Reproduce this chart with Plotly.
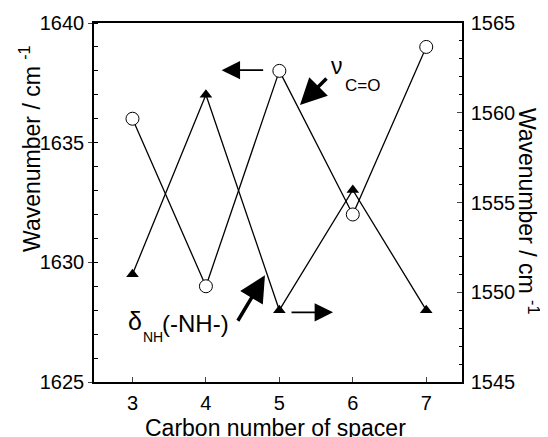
import plotly.graph_objects as go

carbon = [3, 4, 5, 6, 7]
nu_co = [1636, 1629, 1638, 1632, 1639]
delta_nh = [1551, 1561, 1549, 1555.7, 1549]

x_ticks = [3, 4, 5, 6, 7]
left_ticks = [1625, 1630, 1635, 1640]
right_ticks = [1545, 1550, 1555, 1560, 1565]

FONT = "Liberation Sans, Arial, sans-serif"


def px_x(px):
    return 3 + (px - 132.7) / 73.33


def px_y(py):
    return 1640 - (py - 23) / 23.91


fig = go.Figure()
fig.add_trace(go.Scatter(
    x=carbon, y=nu_co, mode="lines+markers", yaxis="y",
    line=dict(color="black", width=1.3),
    marker=dict(symbol="circle", size=13, color="white", line=dict(color="black", width=1)),
    showlegend=False))
fig.add_trace(go.Scatter(
    x=carbon, y=delta_nh, mode="lines+markers", yaxis="y2",
    line=dict(color="black", width=1.3),
    marker=dict(symbol="triangle-up", size=11, color="black", line=dict(color="black", width=0)),
    showlegend=False))

fig.update_layout(
    width=540, height=429,
    margin=dict(l=86, r=86, t=15, b=55),
    paper_bgcolor="white", plot_bgcolor="white",
    font=dict(family=FONT, color="black", size=20),
    xaxis=dict(range=[2.476, 7.487], tickvals=x_ticks, ticks="inside", ticklen=5,
               tickwidth=1.2, showline=True, linewidth=1.5, linecolor="black",
               mirror=True, showgrid=False, zeroline=False, automargin=False,
               tickfont=dict(size=20), ticklabelstandoff=2),
    yaxis=dict(range=[1625, 1640], tickvals=left_ticks, ticks="outside", ticklen=4,
               tickwidth=1.2, showline=True, linewidth=1.5, linecolor="black",
               showgrid=False, zeroline=False, tickfont=dict(size=20), automargin=False,
               ticklabelstandoff=0,
               minor=dict(dtick=1, ticks="inside", ticklen=4, tickwidth=1, tickcolor="black")),
    yaxis2=dict(range=[1545, 1565], tickvals=right_ticks, ticks="inside", ticklen=5,
                tickwidth=1.2, showline=True, linewidth=1.5, linecolor="black",
                overlaying="y", side="right", showgrid=False, zeroline=False, automargin=False,
                tickfont=dict(size=20), ticklabelstandoff=3,
                minor=dict(dtick=1, ticks="inside", ticklen=3, tickwidth=1, tickcolor="black")),
)

ann = []
# axis titles
ann.append(dict(text="Wavenumber / cm <sup>-1</sup>", xref="paper", yref="paper",
                x=-0.174, y=0.652, textangle=-90, showarrow=False,
                xanchor="center", yanchor="middle", font=dict(size=23)))
ann.append(dict(text="Wavenumber / cm <sup>-1</sup>", xref="paper", yref="paper",
                x=1.18, y=0.476, textangle=90, showarrow=False,
                xanchor="center", yanchor="middle", font=dict(size=23)))
ann.append(dict(text="Carbon number of spacer", xref="paper", yref="paper",
                x=0.492, y=-0.127, showarrow=False,
                xanchor="center", yanchor="middle", font=dict(size=23)))
# thin arrows
ann.append(dict(x=4.214, y=1638.03, xref="x", yref="y", ax=43, ay=0, text="",
                showarrow=True, arrowhead=2, arrowsize=2.3, arrowwidth=1.6, arrowcolor="black"))
ann.append(dict(x=5.731, y=1627.91, xref="x", yref="y", ax=-43, ay=0, text="",
                showarrow=True, arrowhead=2, arrowsize=2.3, arrowwidth=1.6, arrowcolor="black"))
# thick arrows
ann.append(dict(x=5.281, y=1636.57, xref="x", yref="y", ax=28, ay=-28, text="",
                showarrow=True, arrowhead=2, arrowsize=1.5, arrowwidth=3.5, arrowcolor="black"))
ann.append(dict(x=4.804, y=1629.46, xref="x", yref="y", ax=-28, ay=47, text="",
                showarrow=True, arrowhead=2, arrowsize=1.5, arrowwidth=3.5, arrowcolor="black"))
# labels
ann.append(dict(x=px_x(337), y=px_y(66), xref="x", yref="y",
                text="ν", showarrow=False, font=dict(size=23), xanchor="center", yanchor="middle"))
ann.append(dict(x=px_x(343), y=px_y(85), xref="x", yref="y",
                text="C=O", showarrow=False, font=dict(size=17), xanchor="left", yanchor="middle"))
ann.append(dict(x=px_x(126), y=px_y(321), xref="x", yref="y",
                text="δ", showarrow=False, font=dict(size=25), xanchor="left", yanchor="middle"))
ann.append(dict(x=px_x(141), y=px_y(337), xref="x", yref="y",
                text="NH", showarrow=False, font=dict(size=14), xanchor="left", yanchor="middle"))
ann.append(dict(x=px_x(160), y=px_y(323), xref="x", yref="y",
                text="(-NH-)", showarrow=False, font=dict(size=24), xanchor="left", yanchor="middle"))
fig.update_layout(annotations=ann)

fig.write_html("out.html")
